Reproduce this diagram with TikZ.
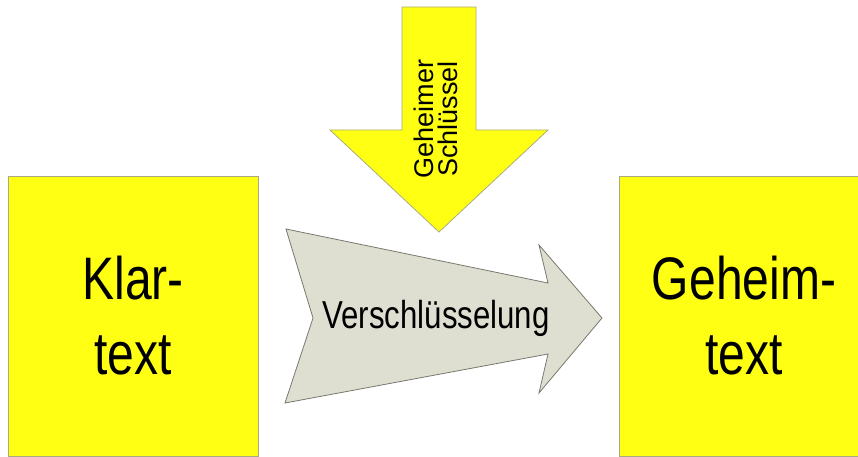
\documentclass[tikz,border=0pt]{standalone}
\usepackage{fontspec}
\setmainfont{Liberation Sans}
\newfontfamily\narrowsans[FakeStretch=0.8]{Liberation Sans}
\definecolor{keyyellow}{RGB}{255,255,20}
\definecolor{boxedge}{RGB}{170,170,130}
\definecolor{procfill}{RGB}{222,223,208}
\definecolor{procedge}{RGB}{120,120,110}
\begin{document}
\begin{tikzpicture}[x=1pt,y=-1pt,
  textbox/.style={draw=boxedge, fill=keyyellow, line width=0.8pt,
    minimum width=250pt, minimum height=280pt, inner sep=0pt,
    align=center, font=\narrowsans\fontsize{60}{75}\selectfont},
  keyarrow/.style={draw=boxedge, fill=keyyellow, line width=0.8pt, line join=miter},
  procarrow/.style={draw=procedge, fill=procfill, line width=0.8pt, line join=miter}]
\useasboundingbox (0,0) rectangle (858,457);

% plain text and cipher text
\node[textbox] (klar) at (133,316) {Klar-\\text};
\node[textbox] (geheim) at (744,316) {Geheim-\\text};

% secret key arrow pointing down
\draw[keyarrow] (402,7) -- (476,7) -- (476,130) -- (548,130) -- (439,232)
  -- (330,130) -- (402,130) -- cycle;
\node[rotate=90, align=center, inner sep=0pt,
  font=\fontsize{27}{24}\selectfont] (key) at (436,119) {Geheimer\\Schlüssel};

% encryption arrow
\draw[procarrow] (286,229) -- (548,283) -- (539,245) -- (602,318) -- (539,393)
  -- (548,354) -- (285,403) -- (313,318) -- cycle;
\node[anchor=base, inner sep=0pt, font=\narrowsans\fontsize{39}{47}\selectfont]
  (enc) at (436,328) {Verschlüsselung};
\end{tikzpicture}
\end{document}
